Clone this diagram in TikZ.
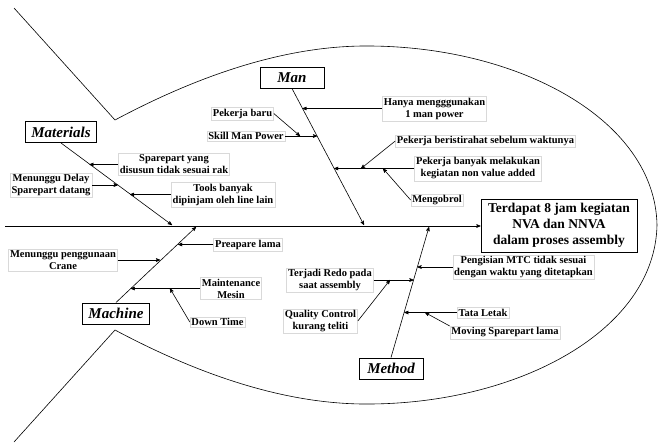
\documentclass[tikz,border=0pt]{standalone}
\usepackage{fontspec}
\setmainfont{Liberation Serif}
\usetikzlibrary{arrows}

\begin{document}
\begin{tikzpicture}[->,>=stealth',x=1pt,y=-1pt,line width=0.6pt]
  \tikzstyle{cat}=[draw=black,line width=1pt,font=\bfseries\itshape\fontsize{15}{18}\selectfont,
                   minimum width=64pt,minimum height=21pt,inner xsep=6pt]
  \tikzstyle{cause}=[draw=black!15,line width=0.4pt,font=\bfseries\fontsize{10.5}{12}\selectfont,
                     align=center,inner sep=1.5pt]
  \tikzstyle{effect}=[draw=black,line width=1pt,font=\bfseries\fontsize{13.5}{16}\selectfont,
                      align=center,minimum width=156pt,minimum height=53pt]

  \useasboundingbox (0,0) rectangle (659,445);

  % fish
  \draw[-] (14,8) -- (115,120) .. controls (190,80) and (280,45) .. (370,46)
        .. controls (520,47) and (655,120) .. (657,225)
        .. controls (655,330) and (520,403) .. (370,404)
        .. controls (280,405) and (190,370) .. (115,330) -- (14,442);

  \node[effect] (E) at (559,225.5) {Terdapat 8 jam kegiatan\\NVA dan NNVA\\dalam proses assembly};
  \coordinate (S) at (5,226);
  \draw (S) -- (E.west |- S);

  \node[cat] (Man) at (292,77.5)  {Man};
  \node[cat] (Mat) at (61,132)    {Materials};
  \node[cat] (Mac) at (116,313.5) {Machine};
  \node[cat] (Met) at (391,368.5) {Method};

  \coordinate (tMan) at (364,225);
  \coordinate (tMat) at (172,225);
  \coordinate (tMac) at (196,227);
  \coordinate (tMet) at (429,227);

  % man
  \node[cause] (A1) at (434.5,108.5) {Hanya mengggunakan\\1 man power};
  \node[cause] (A2) at (242.5,113.5) {Pekerja baru};
  \node[cause] (A3) at (246,136)     {Skill Man Power};
  \node[cause] (A4) at (485.5,141)   {Pekerja beristirahat sebelum waktunya};
  \node[cause] (A5) at (478,168.5)   {Pekerja banyak melakukan\\kegiatan non value added};
  \node[cause] (A6) at (437,200)     {Mengobrol};
  \coordinate (a1) at (302.5,108.5);
  \coordinate (a3) at (317.2,136);
  \coordinate (a2) at (300,136);
  \coordinate (a5) at (334.1,168.5);
  \coordinate (a4) at (361,168.5);
  \coordinate (a6) at (383,168.5);

  % materials
  \node[cause] (B1) at (174,164.5) {Sparepart yang\\disusun tidak sesuai rak};
  \node[cause] (B2) at (51,185)    {Menunggu Delay\\Sparepart datang};
  \node[cause] (B3) at (223,194.5) {Tools banyak\\dipinjam oleh line lain};
  \coordinate (b1) at (89.4,164.5);
  \coordinate (b2) at (117.9,185);
  \coordinate (b3) at (130,194.5);

  % machine
  \node[cause] (C1) at (248,244.5) {Preapare lama};
  \node[cause] (C2) at (63,260)    {Menunggu penggunaan\\Crane};
  \node[cause] (C3) at (231,288.5) {Maintenance\\Mesin};
  \node[cause] (C4) at (217.5,322) {Down Time};
  \coordinate (c1) at (178.1,244.5);
  \coordinate (c2) at (160.2,260);
  \coordinate (c3) at (130.7,288.5);
  \coordinate (c4) at (170,288.5);

  % method
  \node[cause] (D1) at (523.5,267) {Pengisian MTC tidak sesuai\\dengan waktu yang ditetapkan};
  \node[cause] (D2) at (330,280)   {Terjadi Redo pada\\saat assembly};
  \node[cause] (D3) at (320.5,321) {Quality Control\\kurang teliti};
  \node[cause] (D4) at (483,312.5) {Tata Letak};
  \node[cause] (D5) at (505,332.5) {Moving Sparepart lama};
  \coordinate (d1) at (417.4,267);
  \coordinate (d2) at (413.6,280);
  \coordinate (d3) at (390,280);
  \coordinate (d4) at (404.3,312.5);
  \coordinate (d5) at (425,312.5);

  \path (Man.south) edge (tMan)
        (A1.west) edge (a1)
        (A2.east) edge (a2)
        (A3.east) edge (a3)
        (A4.west) edge (a4)
        (A5.west) edge (a5)
        (A6.west) edge (a6)
        (Mat.south) edge (tMat)
        (B1.west) edge (b1)
        (B2.east) edge (b2)
        (B3.west) edge (b3)
        (Mac.north) edge (tMac)
        (C1.west) edge (c1)
        (C2.east) edge (c2)
        (C3.west) edge (c3)
        (C4.west) edge (c4)
        (Met.north) edge (tMet)
        (D1.west) edge (d1)
        (D2.east) edge (d2)
        (D3.east) edge (d3)
        (D4.west) edge (d4)
        (D5.north west) edge (d5);
\end{tikzpicture}
\end{document}
